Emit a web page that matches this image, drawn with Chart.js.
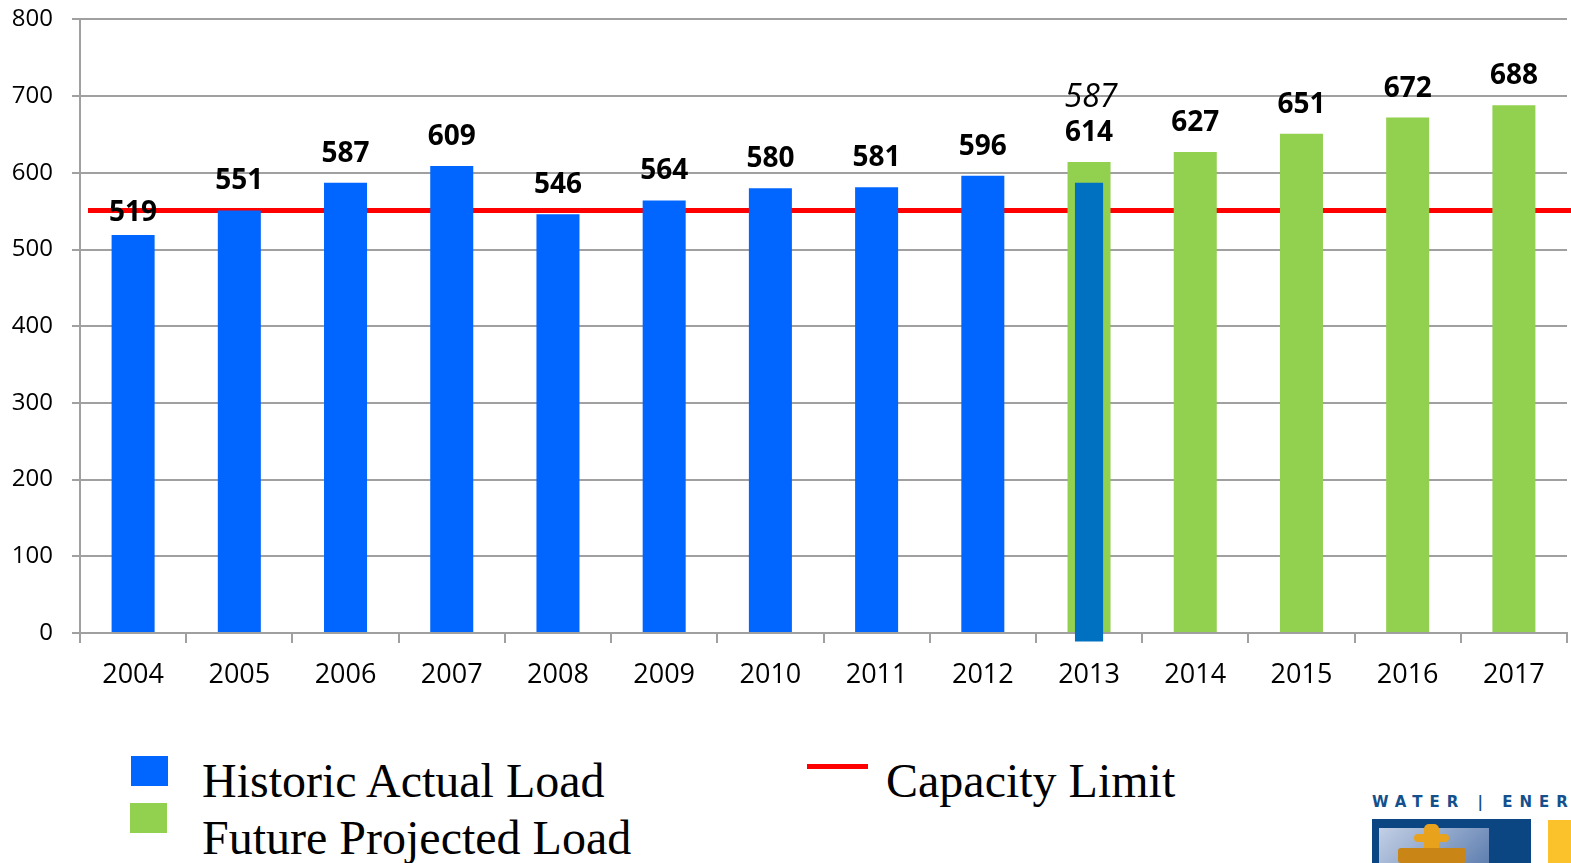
<!DOCTYPE html>
<html lang="en">
<head>
    <meta charset="UTF-8">
    <title>Historic and projected load vs capacity</title>
    <script src="https://cdn.jsdelivr.net/npm/chart.js@4.4.0/dist/chart.umd.min.js"></script>
    <style>
        body {
            margin: 0;
            width: 1571px;
            height: 863px;
            overflow: hidden;
            background: #fff;
            position: relative;
        }
        #wrap {
            position: absolute;
            left: 0;
            top: -14px;
            width: 1571px;
            height: 714px;
        }
        .key {
            position: absolute;
        }
        .key-txt {
            position: absolute;
            font-family: 'Liberation Serif', 'Times New Roman', serif;
            font-size: 48px;
            line-height: 48px;
            color: #000;
            white-space: nowrap;
        }
        /* logo in the bottom right corner */
        .logo-txt {
            position: absolute;
            left: 1372px;
            top: 793px;
            font-family: 'DejaVu Sans', sans-serif;
            font-weight: bold;
            font-size: 15px;
            letter-spacing: 7px;
            color: #14508c;
            white-space: nowrap;
        }
    </style>
</head>
<body>

<div id="wrap"><canvas id="graph" width="1571" height="714"></canvas></div>

<!-- legend -->
<div class="key" style="left:131px; top:756px; width:37px; height:30px; background:#0066FF;"></div>
<div class="key" style="left:130px; top:803px; width:37px; height:30px; background:#92D050;"></div>
<div class="key-txt" style="left:202px; top:757px;">Historic Actual Load</div>
<div class="key-txt" style="left:202px; top:814px;">Future Projected Load</div>
<div class="key" style="left:807px; top:764px; width:61px; height:5px; background:#FF0000;"></div>
<div class="key-txt" style="left:886px; top:757px;">Capacity Limit</div>

<!-- logo -->
<div class="logo-txt">WATER | ENERGY</div>
<div class="key" style="left:1372px; top:819px; width:159px; height:44px; background:#0b4682;"></div>
<div class="key" style="left:1379px; top:828px; width:110px; height:35px; background:linear-gradient(135deg,#c3d0e6,#5f7fb0);"></div>
<div class="key" style="left:1424px; top:824px; width:15px; height:39px; background:#e8a21c; border-radius:5px;"></div>
<div class="key" style="left:1414px; top:834px; width:35px; height:8px; background:#e8a21c; border-radius:4px;"></div>
<div class="key" style="left:1398px; top:848px; width:68px; height:15px; background:#c98516; border-radius:3px;"></div>
<div class="key" style="left:1548px; top:820px; width:30px; height:43px; background:#fcc22b;"></div>

<script>
    // Datos del gráfico
    const years = ['2004', '2005', '2006', '2007', '2008', '2009', '2010',
                   '2011', '2012', '2013', '2014', '2015', '2016', '2017'];
    const historicLoad = [519, 551, 587, 609, 546, 564, 580, 581, 596,
                          null, null, null, null, null];
    const projectedLoad = [null, null, null, null, null, null, null, null, null,
                           614, 627, 651, 672, 688];
    // 2013 actual load, drawn over the projection (starts a little below the axis)
    const actual2013 = [null, null, null, null, null, null, null, null, null,
                        [-11, 587], null, null, null, null];
    const capacityLimit = 551;
    const yTicks = [0, 100, 200, 300, 400, 500, 600, 700, 800];

    const gray = '#a0a0a0';
    // separación etiqueta-barra (px); la de 2004 está más pegada
    const labelGap = { 0: 14 };

    // Línea de capacidad: por detrás de las barras, hasta el borde derecho
    const capacityPlugin = {
        id: 'capacity',
        beforeDatasetsDraw(chart) {
            const c = chart.ctx;
            const y = chart.scales.y.getPixelForValue(capacityLimit);
            c.save();
            c.strokeStyle = '#FF0000';
            c.lineWidth = 5;
            c.beginPath();
            c.moveTo(chart.chartArea.left + 8, y);
            c.lineTo(chart.width, y);
            c.stroke();
            c.restore();
        }
    };

    // Etiquetas de valor encima de las barras
    const labelPlugin = {
        id: 'valueLabels',
        afterDatasetsDraw(chart) {
            const c = chart.ctx;
            c.save();
            c.fillStyle = '#000';
            c.textAlign = 'center';
            c.textBaseline = 'alphabetic';
            [1, 2].forEach(di => {
                const meta = chart.getDatasetMeta(di);
                const vals = chart.data.datasets[di].data;
                meta.data.forEach((bar, i) => {
                    if (vals[i] === null) return;
                    const gap = labelGap[i] !== undefined ? labelGap[i] : 21;
                    c.font = 'bold 28px "Open Sans", sans-serif';
                    c.fillText(String(vals[i]), bar.x, bar.y - gap);
                    const extra = actual2013[i];
                    if (extra) {
                        c.font = 'italic 32px "Open Sans", sans-serif';
                        c.fillText(String(extra[1]), bar.x + 2, bar.y - gap - 34);
                    }
                });
            });
            c.restore();
        }
    };

    const ctx = document.getElementById('graph').getContext('2d');
    const chart = new Chart(ctx, {
        type: 'bar',
        data: {
            labels: years,
            datasets: [
                {
                    label: 'Actual 2013',
                    data: actual2013,
                    backgroundColor: '#0070C0',
                    barPercentage: 0.265,
                    categoryPercentage: 1,
                    grouped: false,
                    clip: false,
                    order: 0
                },
                {
                    label: 'Historic Actual Load',
                    data: historicLoad,
                    backgroundColor: '#0066FF',
                    barPercentage: 0.405,
                    categoryPercentage: 1,
                    grouped: false,
                    order: 1
                },
                {
                    label: 'Future Projected Load',
                    data: projectedLoad,
                    backgroundColor: '#92D050',
                    barPercentage: 0.405,
                    categoryPercentage: 1,
                    grouped: false,
                    order: 2
                }
            ]
        },
        options: {
            responsive: false,
            animation: false,
            layout: {
                padding: { top: 5, right: 4, left: 0, bottom: 0 }
            },
            plugins: {
                legend: { display: false },
                tooltip: { enabled: false }
            },
            scales: {
                x: {
                    afterFit(scale) { scale.height = 67; },
                    grid: {
                        offset: true,
                        drawOnChartArea: false,
                        drawTicks: true,
                        tickLength: 10,
                        color: gray,
                        lineWidth: 2
                    },
                    border: { color: gray, width: 2 },
                    ticks: {
                        color: '#000',
                        padding: 16,
                        maxRotation: 0,
                        font: { family: 'Open Sans', size: 27 }
                    }
                },
                y: {
                    min: 0,
                    max: 800,
                    afterFit(scale) { scale.width = 80; },
                    afterBuildTicks(scale) {
                        scale.ticks = yTicks.map(v => ({ value: v }));
                    },
                    grid: {
                        color: gray,
                        lineWidth: 2,
                        tickLength: 8
                    },
                    border: { color: gray, width: 2 },
                    ticks: {
                        color: '#000',
                        padding: 19,
                        font: { family: 'Open Sans', size: 24 }
                    }
                }
            }
        },
        plugins: [capacityPlugin, labelPlugin]
    });
</script>

</body>
</html>
